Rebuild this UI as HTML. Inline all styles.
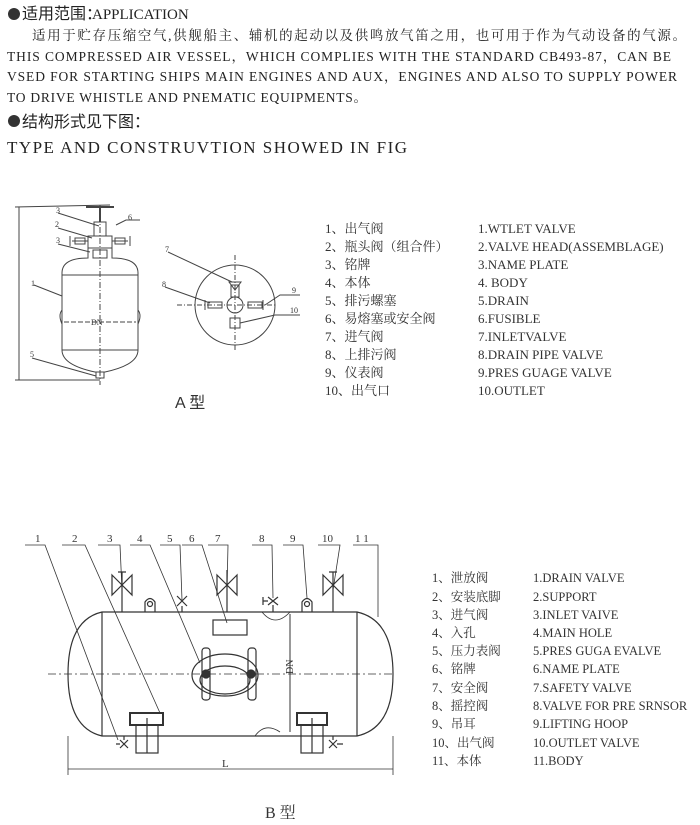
<!DOCTYPE html>
<html><head><meta charset="utf-8"><style>
html,body{margin:0;padding:0;background:#fff}
svg{display:block}
.s{font-family:"Liberation Serif","Noto Serif CJK SC",serif;fill:#222}
.c{font-family:"Liberation Serif","Noto Serif CJK SC",serif;fill:#333}
</style></head><body>
<svg width="700" height="825" viewBox="0 0 700 825" xmlns="http://www.w3.org/2000/svg">
<g class="s">
<circle cx="14" cy="14" r="6" fill="#333"/>
<text x="22" y="19" font-size="16" font-family="Noto Sans CJK SC,sans-serif">适用范围：</text>
<text x="92" y="19" font-size="15">APPLICATION</text>
<text x="32" y="40" font-size="13.5" textLength="654">适用于贮存压缩空气,供舰船主、辅机的起动以及供鸣放气笛之用，也可用于作为气动设备的气源。</text>
<text x="7" y="61" font-size="13.5" textLength="664">THIS COMPRESSED AIR VESSEL，WHICH COMPLIES WITH THE STANDARD CB493-87，CAN BE</text>
<text x="7" y="81" font-size="13.5" textLength="670">VSED FOR STARTING SHIPS MAIN ENGINES AND AUX，ENGINES AND ALSO TO SUPPLY POWER</text>
<text x="7" y="102" font-size="13.5" textLength="360">TO DRIVE WHISTLE AND PNEMATIC EQUIPMENTS。</text>
<circle cx="14" cy="121" r="6" fill="#333"/>
<text x="22" y="127" font-size="16" font-family="Noto Sans CJK SC,sans-serif">结构形式见下图：</text>
<text x="7" y="153" font-size="17" textLength="400">TYPE AND CONSTRUVTION SHOWED IN FIG</text>
</g>
<g class="c" font-size="13">
<text x="325" y="233">1、出气阀</text><text x="478" y="233">1.WTLET VALVE</text>
<text x="325" y="251">2、瓶头阀（组合件）</text><text x="478" y="251">2.VALVE HEAD(ASSEMBLAGE)</text>
<text x="325" y="269">3、铭牌</text><text x="478" y="269">3.NAME PLATE</text>
<text x="325" y="287">4、本体</text><text x="478" y="287">4. BODY</text>
<text x="325" y="305">5、排污螺塞</text><text x="478" y="305">5.DRAIN</text>
<text x="325" y="323">6、易熔塞或安全阀</text><text x="478" y="323">6.FUSIBLE</text>
<text x="325" y="341">7、进气阀</text><text x="478" y="341">7.INLETVALVE</text>
<text x="325" y="359">8、上排污阀</text><text x="478" y="359">8.DRAIN PIPE VALVE</text>
<text x="325" y="377">9、仪表阀</text><text x="478" y="377">9.PRES GUAGE VALVE</text>
<text x="325" y="395">10、出气口</text><text x="478" y="395">10.OUTLET</text>
</g>
<text x="175" y="408" font-size="16" font-family="Liberation Sans,Noto Sans CJK SC,sans-serif" fill="#333">A 型</text>
<g class="c" font-size="12.5">
<text x="432" y="582">1、泄放阀</text><text x="533" y="582">1.DRAIN VALVE</text>
<text x="432" y="601">2、安装底脚</text><text x="533" y="601">2.SUPPORT</text>
<text x="432" y="619">3、进气阀</text><text x="533" y="619">3.INLET VAIVE</text>
<text x="432" y="637">4、入孔</text><text x="533" y="637">4.MAIN HOLE</text>
<text x="432" y="655">5、压力表阀</text><text x="533" y="655">5.PRES GUGA EVALVE</text>
<text x="432" y="673">6、铭牌</text><text x="533" y="673">6.NAME PLATE</text>
<text x="432" y="692">7、安全阀</text><text x="533" y="692">7.SAFETY VALVE</text>
<text x="432" y="710">8、摇控阀</text><text x="533" y="710">8.VALVE FOR PRE SRNSOR</text>
<text x="432" y="728">9、吊耳</text><text x="533" y="728">9.LIFTING HOOP</text>
<text x="432" y="747">10、出气阀</text><text x="533" y="747">10.OUTLET VALVE</text>
<text x="432" y="765">11、本体</text><text x="533" y="765">11.BODY</text>
</g>
<text x="265" y="818" font-size="16" font-family="Liberation Serif,Noto Serif CJK SC,serif" fill="#333">B 型</text>

<!-- Drawing A -->
<g stroke="#444" stroke-width="1" fill="none">
<line x1="19" y1="207" x2="19" y2="380"/><line x1="15" y1="207" x2="110" y2="205"/><line x1="15" y1="380" x2="100" y2="380"/>
<path d="M62 273 Q62 258 88 258 L88 248 L112 248 L112 258 Q138 258 138 273 L138 350 Q138 365 105 372 L95 372 Q62 365 62 350 Z"/>
<line x1="62" y1="275" x2="138" y2="275"/><line x1="62" y1="350" x2="138" y2="350"/>
<line x1="100" y1="205" x2="100" y2="385" stroke-dasharray="6,2,1,2"/>
<line x1="64" y1="322" x2="136" y2="322" stroke-dasharray="5,2"/>
<rect x="93" y="250" width="14" height="8"/><rect x="88" y="236" width="24" height="12"/>
<rect x="94" y="222" width="12" height="14"/><line x1="86" y1="207" x2="114" y2="207" stroke-width="2"/>
<line x1="100" y1="207" x2="100" y2="222" stroke-width="2"/>
<path d="M70 236 L70 246 M72 241 L88 241 M112 241 L128 241 M130 236 L130 246"/>
<rect x="75" y="238" width="10" height="6"/><rect x="115" y="238" width="10" height="6"/>
<path d="M62 310 q-4 5 0 14 M138 310 q4 5 0 14"/>
<rect x="96" y="372" width="8" height="6"/>
<path d="M58 213 L99 226 M58 228 L92 238 M58 244 L90 252 M116 225 L126 220 L140 220 M34 285 L62 296 M32 358 L96 376"/>
<circle cx="235" cy="305" r="40"/>
<line x1="235" y1="255" x2="235" y2="350" stroke-dasharray="5,2,1,2"/>
<line x1="177" y1="305" x2="275" y2="305" stroke-dasharray="5,2,1,2"/>
<circle cx="235" cy="305" r="8"/>
<rect x="231" y="285" width="8" height="12"/><rect x="230" y="318" width="10" height="10"/>
<path d="M229 282 L241 282 L235 290 Z M205 300 L205 310 M263 300 L263 310"/>
<rect x="208" y="302" width="14" height="6"/><rect x="248" y="302" width="14" height="6"/>
<path d="M168 252 L232 282 M165 287 L210 303 M265 305 L280 295 L300 295 M240 323 L275 315 L300 315"/>
</g>
<g class="c" font-size="8">
<text x="56" y="213">3</text><text x="128" y="220">6</text><text x="55" y="227">2</text><text x="56" y="243">3</text>
<text x="31" y="286">1</text><text x="30" y="357">5</text><text x="91" y="325">DN</text>
<text x="165" y="252">7</text><text x="162" y="287">8</text><text x="292" y="293">9</text><text x="290" y="313">10</text>
</g>

<!-- Drawing B -->
<g stroke="#333" stroke-width="1.2" fill="none">
<path d="M102 612 L357 612 Q393 620 393 674 Q393 728 357 736 L102 736 Q68 728 68 674 Q68 620 102 612 Z"/>
<line x1="102" y1="612" x2="102" y2="736"/><line x1="357" y1="612" x2="357" y2="736"/>
<line x1="290" y1="614" x2="290" y2="732" stroke-width="1"/>
<line x1="48" y1="674" x2="395" y2="674" stroke-dasharray="8,3,2,3" stroke-width="0.8"/>
<line x1="68" y1="736" x2="68" y2="775" stroke-width="0.8"/><line x1="393" y1="736" x2="393" y2="775" stroke-width="0.8"/>
<line x1="68" y1="769" x2="393" y2="769" stroke-width="0.8"/>
<!-- valves -->
<g id="v"><path d="M112 575 L122 585 L112 595 Z M132 575 L122 585 L132 595 Z" /><path d="M122 585 L122 612 M122 572 L122 585 M118 572 L126 572"/></g>
<path d="M217 575 L227 585 L217 595 Z M237 575 L227 585 L237 595 Z M227 585 L227 612 M227 570 L227 585"/>
<path d="M323 575 L333 585 L323 595 Z M343 575 L333 585 L343 595 Z M333 585 L333 612 M333 572 L333 585 M329 572 L337 572"/>
<path d="M177 596 L187 606 M177 606 L187 596 M182 606 L182 612"/>
<path d="M268 597 L278 605 M268 605 L278 597 M273 605 L273 612 M263 597 L263 605 M263 601 L268 601"/>
<path d="M145 612 L145 602 Q150 595 155 602 L155 612"/><circle cx="150" cy="604" r="2.5"/>
<path d="M302 612 L302 602 Q307 595 312 602 L312 612"/><circle cx="307" cy="604" r="2.5"/>
<path d="M262 612 Q275 628 290 612" stroke-width="0.8"/>
<path d="M255 736 Q265 722 280 732" stroke-width="0.8"/>
<rect x="213" y="620" width="34" height="15"/>
<ellipse cx="225" cy="675" rx="33" ry="21"/>
<ellipse cx="225" cy="680" rx="25" ry="14"/>
<rect x="202" y="648" width="8" height="52" rx="3"/><rect x="248" y="648" width="8" height="52" rx="3"/>
<circle cx="206" cy="674" r="4" fill="#333"/><circle cx="251" cy="674" r="4" fill="#333"/>
<rect x="130" y="713" width="33" height="12" stroke-width="2"/><rect x="136" y="725" width="22" height="28"/><line x1="147" y1="718" x2="147" y2="753"/>
<rect x="297" y="713" width="30" height="12" stroke-width="2"/><rect x="301" y="725" width="22" height="28"/><line x1="312" y1="718" x2="312" y2="753"/>
<path d="M120 740 L128 748 M120 748 L128 740 M124 736 L124 740 M116 744 L120 744"/>
<path d="M329 740 L337 748 M329 748 L337 740 M333 736 L333 740 M337 744 L343 744"/>
<g stroke-width="0.8">
<path d="M25 545 L45 545 L118 740 M62 545 L85 545 L160 713 M98 545 L120 545 L122 590 M130 545 L150 545 L200 663 M160 545 L180 545 L182 600 M182 545 L202 545 L227 623 M208 545 L228 545 L227 590 M252 545 L272 545 L273 598 M283 545 L303 545 L307 598 M318 545 L340 545 L333 590 M353 545 L378 545 L378 617"/>
</g>
</g>
<g class="c" font-size="11">
<text x="35" y="542">1</text><text x="72" y="542">2</text><text x="107" y="542">3</text><text x="137" y="542">4</text><text x="167" y="542">5</text><text x="189" y="542">6</text><text x="215" y="542">7</text><text x="259" y="542">8</text><text x="290" y="542">9</text><text x="322" y="542">10</text><text x="355" y="542">1 1</text>
<text x="222" y="767">L</text>
<text x="287" y="680" transform="rotate(-90 287 674)" font-size="10">DN</text>
</g>
</svg>
</body></html>
